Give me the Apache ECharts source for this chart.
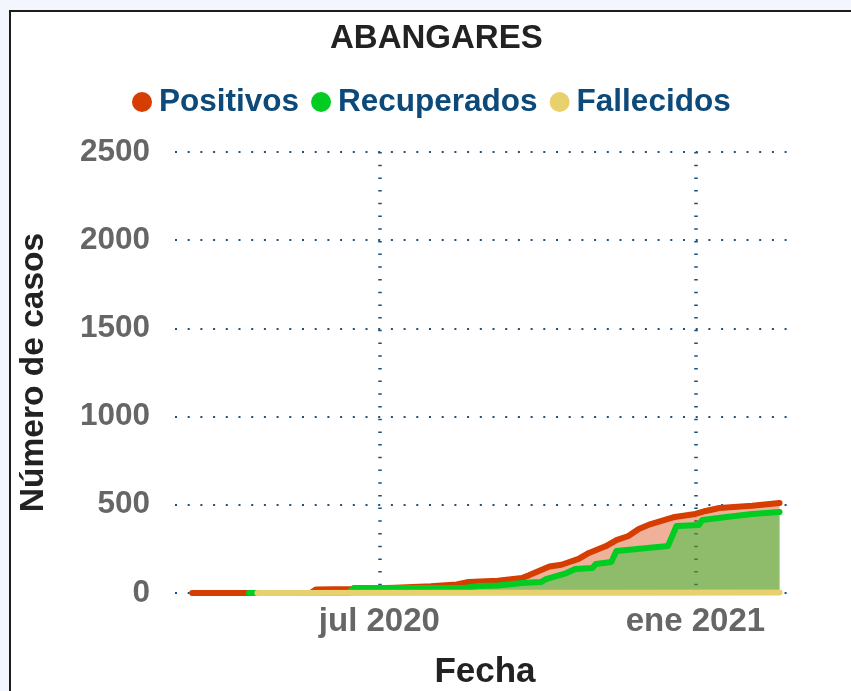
<!DOCTYPE html>
<html>
<head>
<meta charset="utf-8">
<script src="https://cdn.jsdelivr.net/npm/echarts@6/dist/echarts.min.js"></script>
<style>
  html, body { margin: 0; padding: 0; background: #f3f7fd; overflow: hidden; }
  .marco {
    position: absolute; left: 9px; top: 10px; width: 900px; height: 800px;
    border: 2px solid #1c1c1c; background: #fff;
  }
  #myChart { position: absolute; left: 0; top: 0; width: 851px; height: 691px; }
</style>
</head>
<body>
<div class="marco"></div>
<div id="myChart"></div>
<script>
// datos (acumulados)
const positivos = [
  ["2020-03-14", 0], ["2020-05-22", 0], ["2020-05-25", 20], ["2020-06-15", 22],
  ["2020-07-10", 30], ["2020-07-31", 38], ["2020-08-15", 48], ["2020-08-22", 62],
  ["2020-09-08", 70], ["2020-09-22", 85], ["2020-09-26", 100], ["2020-10-08", 150],
  ["2020-10-15", 160], ["2020-10-25", 193], ["2020-10-31", 227], ["2020-11-10", 266],
  ["2020-11-16", 300], ["2020-11-23", 323], ["2020-11-29", 363], ["2020-12-06", 391],
  ["2020-12-20", 431], ["2021-01-01", 448], ["2021-01-07", 465], ["2021-01-15", 482],
  ["2021-02-03", 495], ["2021-02-19", 510]
];
const recuperados = [
  ["2020-04-16", 0], ["2020-06-13", 0], ["2020-06-16", 28], ["2020-08-20", 30],
  ["2020-08-28", 40], ["2020-09-08", 42], ["2020-09-22", 57], ["2020-10-03", 62],
  ["2020-10-06", 79], ["2020-10-18", 113], ["2020-10-23", 136], ["2020-11-02", 142],
  ["2020-11-04", 164], ["2020-11-13", 176], ["2020-11-16", 238], ["2020-12-16", 266],
  ["2020-12-21", 380], ["2021-01-03", 385], ["2021-01-05", 414], ["2021-01-19", 431],
  ["2021-02-03", 448], ["2021-02-19", 459]
];
const fallecidos = [
  ["2020-04-21", 0], ["2020-09-15", 1], ["2020-11-20", 2], ["2021-02-19", 3]
];
const meses = ["ene", "feb", "mar", "abr", "may", "jun", "jul", "ago", "sep", "oct", "nov", "dic"];
const etiquetasX = ["2020-07-01", "2021-01-01"];
const ticksY = [0, 500, 1000, 1500, 2000, 2500];
const rangoX = ["2020-03-04", "2021-02-28"];

const colorPos = "#d63d00";
const colorRec = "#00cc22";
const colorFal = "#e8d06c";
const fuente = "Liberation Sans, Arial, sans-serif";

function ms(s) {
  let p = s.split("-");
  return Date.UTC(+p[0], +p[1] - 1, +p[2]);
}
function aSerie(arr) {
  return arr.map(function (d) { return [ms(d[0]), d[1]]; });
}

let myChart = echarts.init(document.getElementById("myChart"));

let option = {
  backgroundColor: "transparent",
  animation: false,
  title: {
    text: "ABANGARES",
    left: 325,
    top: 17,
    textStyle: { fontFamily: fuente, fontSize: 33, fontWeight: "bold", color: "#222" }
  },
  legend: {
    data: ["Positivos", "Recuperados", "Fallecidos"],
    left: 127,
    top: 81,
    icon: "circle",
    itemWidth: 20,
    itemHeight: 20,
    itemGap: 12,
    textStyle: { fontFamily: fuente, fontSize: 31.5, fontWeight: "bold", color: "#0d4a7a", padding: [0, 0, 0, 2] }
  },
  grid: { left: 175, right: 56, top: 152, bottom: 98, containLabel: false, outerBoundsMode: "none" },
  xAxis: {
    type: "value",
    min: ms(rangoX[0]),
    max: ms(rangoX[1]),
    name: "Fecha",
    nameLocation: "middle",
    nameGap: 62,
    nameTextStyle: { fontFamily: fuente, fontSize: 35, fontWeight: "bold", color: "#222" },
    axisLine: { show: false },
    axisTick: { show: false, customValues: etiquetasX.map(ms) },
    axisLabel: {
      customValues: etiquetasX.map(ms),
      margin: 12,
      fontFamily: fuente, fontSize: 33, fontWeight: "bold", color: "#666",
      formatter: function (v) {
        let d = new Date(v);
        return meses[d.getUTCMonth()] + " " + d.getUTCFullYear();
      }
    },
    splitLine: {
      show: true,
      lineStyle: { color: "#1b4f7e", width: 3.5, type: [1.5, 11.2] }
    }
  },
  yAxis: {
    type: "value",
    min: ticksY[0],
    max: ticksY[ticksY.length - 1],
    interval: 500,
    name: "Número de casos",
    nameLocation: "middle",
    nameGap: 124,
    nameTextStyle: { fontFamily: fuente, fontSize: 33.5, fontWeight: "bold", color: "#222" },
    axisLine: { show: false },
    axisTick: { show: false },
    axisLabel: {
      margin: 25, fontFamily: fuente, fontSize: 31.5, fontWeight: "bold", color: "#666",
      formatter: function (v) { return String(v); }
    },
    splitLine: {
      show: true,
      lineStyle: { color: "#1f5282", width: 2, type: [2, 10.7] }
    }
  },
  series: [
    {
      name: "Positivos",
      type: "line",
      data: aSerie(positivos),
      showSymbol: false,
      color: colorPos,
      lineStyle: { width: 6, cap: "round", join: "round" },
      areaStyle: { opacity: 0.4 }
    },
    {
      name: "Recuperados",
      type: "line",
      data: aSerie(recuperados),
      showSymbol: false,
      color: colorRec,
      lineStyle: { width: 6, cap: "round", join: "round" },
      areaStyle: { opacity: 0.4 }
    },
    {
      name: "Fallecidos",
      type: "line",
      data: aSerie(fallecidos),
      showSymbol: false,
      color: colorFal,
      lineStyle: { width: 6, cap: "round", join: "round" },
      areaStyle: { opacity: 0.4 }
    }
  ]
};

myChart.setOption(option);
</script>
</body>
</html>
